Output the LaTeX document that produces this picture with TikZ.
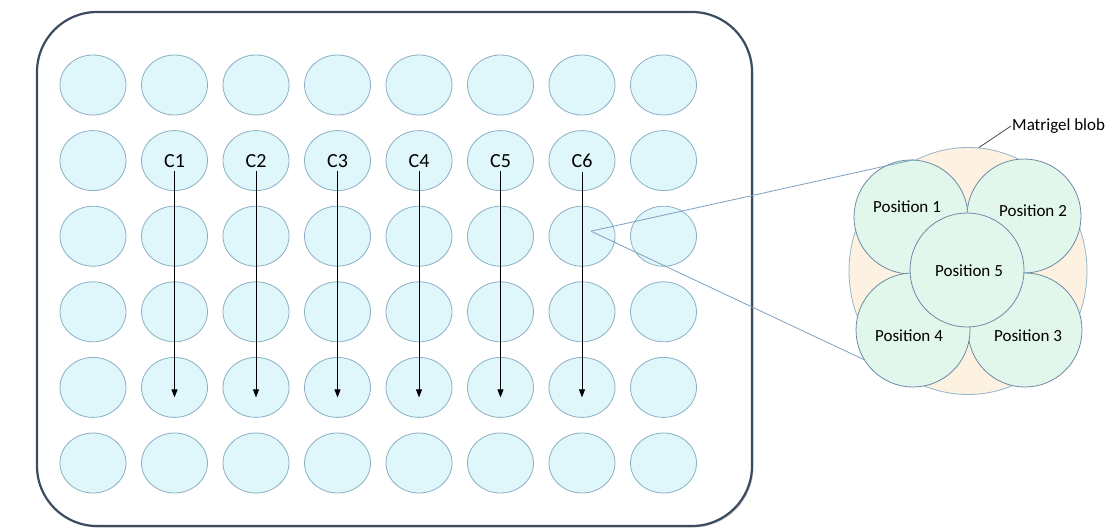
\documentclass[tikz,border=0pt]{standalone}
\usepackage{fontspec}
\setmainfont{Carlito}
\usetikzlibrary{shapes.geometric,arrows.meta,shadows}
\definecolor{wellFill}{RGB}{223,246,251}
\definecolor{wellEdge}{RGB}{140,176,196}
\definecolor{plateEdge}{RGB}{60,76,94}
\definecolor{posFill}{RGB}{226,247,236}
\definecolor{posEdge}{RGB}{108,138,164}
\definecolor{blobFill}{RGB}{253,241,225}
\definecolor{blobEdge}{RGB}{150,180,205}
\definecolor{zoomLine}{RGB}{125,160,190}

\begin{document}
\begin{tikzpicture}[x=1pt,y=-1pt,
    well/.style={ellipse,draw=wellEdge,fill=wellFill,line width=0.8pt,
      minimum width=66pt,minimum height=60pt,inner sep=0pt},
    clabel/.style={font=\fontsize{20}{24}\selectfont,inner sep=1pt},
    poscircle/.style={circle,draw=posEdge,fill=posFill,line width=0.8pt,
      minimum size=114pt,inner sep=0pt},
    postext/.style={font=\fontsize{17}{20}\selectfont,inner sep=1pt},
    blob/.style={ellipse,draw=blobEdge,fill=blobFill,line width=0.8pt,
      minimum width=238pt,minimum height=247pt,inner sep=0pt},
    zoomline/.style={draw=zoomLine,line width=0.8pt}]
  \useasboundingbox (0,0) rectangle (1118,530);
  % plate
  \draw[plateEdge,fill=white,line width=2.2pt,rounded corners=60pt,
    drop shadow={shadow xshift=1.5pt,shadow yshift=-1.5pt,opacity=0.35}]
    (37,12) rectangle (752,526);
  % wells, 8 x 6
  \foreach \c in {1,...,8}
    \foreach \r in {1,...,6}
      \node[well] (w-\c-\r) at ({93+81.5*(\c-1)},{85+75.6*(\r-1)}) {};
  % columns C1..C6 with their arrows
  \foreach \i [count=\c from 2] in {1,...,6}{
    \node[clabel] (lbl\i) at (w-\c-2) {C\i};
    \draw[-{Triangle[width=6pt,length=8pt]},line width=0.8pt]
      ([yshift=-3pt]lbl\i.south) -- ([yshift=-10pt]w-\c-5.center);
  }
  % blob with the five positions
  \node[blob] (blob) at (968,271) {};
  \node[poscircle] (p1) at (911,217) {};
  \node[poscircle] (p2) at (1024,216) {};
  \node[poscircle] (p3) at (1025,330) {};
  \node[poscircle] (p4) at (913,330) {};
  \node[poscircle] (p5) at (967,270) {};
  \node[postext] (t1) at (907,207) {Position 1};
  \node[postext] (t2) at (1033,211) {Position 2};
  \node[postext] (t3) at (1028,336) {Position 3};
  \node[postext] (t4) at (909,336) {Position 4};
  \node[postext] (t5) at (969,271) {Position 5};
  % zoom lines
  \coordinate (focus) at ([xshift=9pt,yshift=5pt]w-7-3.center);
  \draw[zoomline] (focus) -- (p1.87);
  \draw[zoomline] (focus) -- (p4.211);
  % label
  \node[postext,anchor=west] (mlabel) at (1011,126) {Matrigel blob};
  \draw[black!70,line width=0.8pt] (mlabel.west) -- (blob.85);
\end{tikzpicture}
\end{document}
